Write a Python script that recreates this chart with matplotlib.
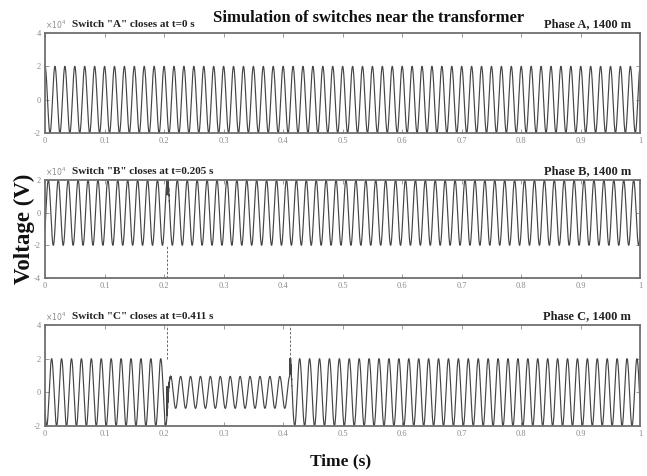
import numpy as np
import matplotlib
matplotlib.use("Agg")
import matplotlib.pyplot as plt

# Simulation settings (voltages in units of 1e4 V)
freq_hz = 60.0
t_end = 1.0
n_samples = 24000
switch_times = {"A": 0.0, "B": 0.205, "C": 0.411}
phase_shift_deg = {"A": 0.0, "B": -120.0, "C": 120.0}
peak_amplitude = 2.0
reduced_amplitude_c = 0.95       # phase C while switch C is still open
transient_amp = {"B": 1.1, "C": 1.0}
transient_freq_hz = 1800.0
transient_tau = 0.0015

ylims = {"A": (-2, 4), "B": (-4, 2), "C": (-2, 4)}
yticks = {"A": [-2, 0, 2, 4], "B": [-4, -2, 0, 2], "C": [-2, 0, 2, 4]}
xticks = [0, 0.1, 0.2, 0.3, 0.4, 0.5, 0.6, 0.7, 0.8, 0.9, 1]
xtick_labels = ["0", "0.1", "0.2", "0.3", "0.4", "0.5", "0.6", "0.7", "0.8", "0.9", "1"]

captions = {
    "A": 'Switch "A" closes at t=0 s',
    "B": 'Switch "B" closes at t=0.205 s',
    "C": 'Switch "C" closes at t=0.411 s',
}
phase_labels = {"A": "Phase A, 1400 m", "B": "Phase B, 1400 m", "C": "Phase C, 1400 m"}

t = np.linspace(0, t_end, n_samples)


def waveform(ph):
    w = 2 * np.pi * freq_hz
    v = peak_amplitude * np.cos(w * t + np.deg2rad(phase_shift_deg[ph]))
    if ph == "C":
        mid = (t >= switch_times["B"]) & (t < switch_times["C"])
        v[mid] = reduced_amplitude_c * np.cos(w * t[mid] + np.deg2rad(phase_shift_deg[ph]))
    for key in ("B", "C"):
        if ph == "B" and key == "C":
            continue
        if ph in ("B", "C"):
            ts = switch_times[key]
            after = t >= ts
            dt = t[after] - ts
            v[after] += transient_amp[ph] * np.exp(-dt / transient_tau) * np.cos(
                2 * np.pi * transient_freq_hz * dt)
    return np.clip(v, -peak_amplitude, peak_amplitude)


serif = "Liberation Serif"
frame_col = "#707070"
tick_col = "#8a8a8a"

fig = plt.figure(figsize=(6.47, 4.76), dpi=100)
positions = {
    "A": [0.0696, 0.7206, 0.9200, 0.2101],
    "B": [0.0696, 0.4160, 0.9200, 0.2058],
    "C": [0.0696, 0.1050, 0.9200, 0.2122],
}

for ph in ("A", "B", "C"):
    ax = fig.add_axes(positions[ph])
    ax.plot(t, waveform(ph), color="#454545", lw=0.85)
    ax.set_xlim(0, 1)
    ax.set_ylim(*ylims[ph])
    ax.set_yticks(yticks[ph])
    ax.set_yticklabels([str(v) for v in yticks[ph]])
    ax.set_xticks(xticks)
    ax.set_xticklabels(xtick_labels)
    ax.tick_params(direction="in", top=True, right=True, length=3, width=0.6,
                   colors=tick_col, labelsize=6, pad=3)
    for lab in ax.get_xticklabels() + ax.get_yticklabels():
        lab.set_fontfamily(serif)
    for sp in ax.spines.values():
        sp.set_color(frame_col)
        sp.set_linewidth(1.3)
    ax.text(0.0, 1.02, r"$\times10^4$", transform=ax.transAxes, fontsize=5.5,
            color=tick_col, ha="left", va="bottom")
    ax.text(0.045, 1.04, captions[ph], transform=ax.transAxes, fontsize=8,
            fontweight="bold", family=serif, ha="left", va="bottom", color="#222222")
    ax.text(0.985, 1.03, phase_labels[ph], transform=ax.transAxes, fontsize=9,
            fontweight="bold", family=serif, ha="right", va="bottom", color="#222222")

    # dashed markers at the switching instants
    if ph == "B":
        ax.plot([switch_times["B"]] * 2, [-4, -2], ls=(0, (3, 2)), color="#555555", lw=0.6)
    if ph == "C":
        for ts in (switch_times["B"], switch_times["C"]):
            ax.plot([ts] * 2, [2.0, 4], ls=(0, (3, 2)), color="#555555", lw=0.6)

fig.text(0.57, 0.962, "Simulation of switches near the transformer", fontsize=12,
         fontweight="bold", family=serif, ha="center", va="center", color="#111111")
fig.text(0.038, 0.52, "Voltage (V)", rotation=90, fontsize=16.5, fontweight="bold",
         family=serif, ha="center", va="center", color="#111111")
fig.text(0.527, 0.03, "Time (s)", fontsize=12.5, fontweight="bold",
         family=serif, ha="center", va="center", color="#111111")

fig.savefig("out.png", dpi=100, facecolor="white")
